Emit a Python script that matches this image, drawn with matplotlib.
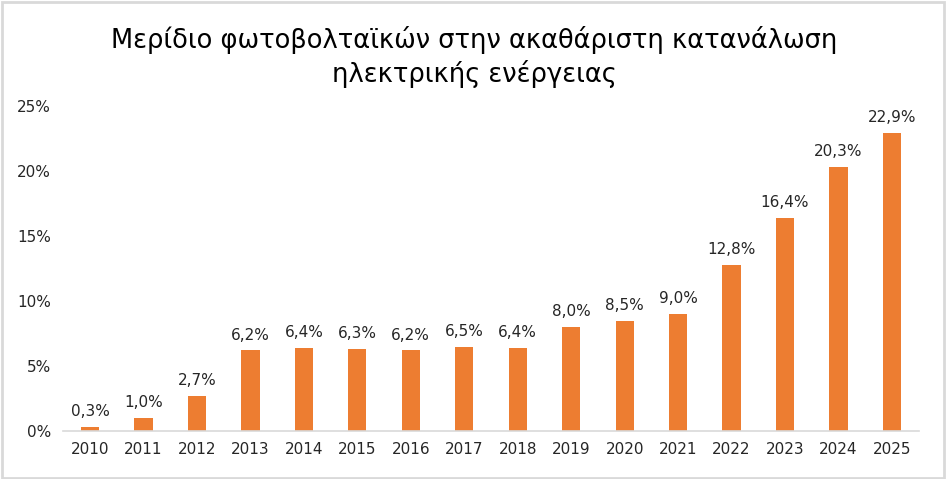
import numpy as np
import matplotlib.pyplot as plt
from matplotlib.patches import Rectangle

years = [str(y) for y in range(2010, 2026)]
shares = [0.3, 1.0, 2.7, 6.2, 6.4, 6.3, 6.2, 6.5, 6.4, 8.0, 8.5, 9.0, 12.8, 16.4, 20.3, 22.9]
yticks = [0, 5, 10, 15, 20, 25]
title = "Μερίδιο φωτοβολταϊκών στην ακαθάριστη κατανάλωση\nηλεκτρικής ενέργειας"

plt.rcParams['font.family'] = ['DejaVu Sans']

fig = plt.figure(figsize=(9.48, 4.79), dpi=100)
ax = fig.add_axes([63.3 / 948, (479 - 431) / 479, (918.7 - 63.3) / 948, (431 - 106) / 479])

x = np.arange(len(years))
bars = ax.bar(x, shares, width=0.34, color='#ED7D31')
for xi, v in zip(x, shares):
    ax.text(xi, v + 0.6, f"{v:.1f}%".replace('.', ','), ha='center', va='bottom',
            fontsize=11, color='#262626')

ax.set_xlim(-0.5, len(years) - 0.5)
ax.set_ylim(0, 25)
ax.set_yticks(yticks)
ax.set_yticklabels([f"{t}%" for t in yticks])
ax.set_xticks(x)
ax.set_xticklabels(years)
ax.tick_params(axis='both', length=0, labelsize=11, colors='#262626')
ax.tick_params(axis='y', pad=9)
ax.tick_params(axis='x', pad=8)
for s in ['top', 'right', 'left']:
    ax.spines[s].set_visible(False)
ax.spines['bottom'].set_color('#d9d9d9')
ax.spines['bottom'].set_linewidth(1.2)

fig.text(0.5, 1 - 57 / 479, title, ha='center', va='center',
         fontsize=18.5, color='#000000', linespacing=1.25)

fig.patches.append(Rectangle((0.002, 0.003), 0.994, 0.992, transform=fig.transFigure,
                             fill=False, edgecolor='#d9d9d9', linewidth=2))

fig.savefig('out.png', dpi=100)
